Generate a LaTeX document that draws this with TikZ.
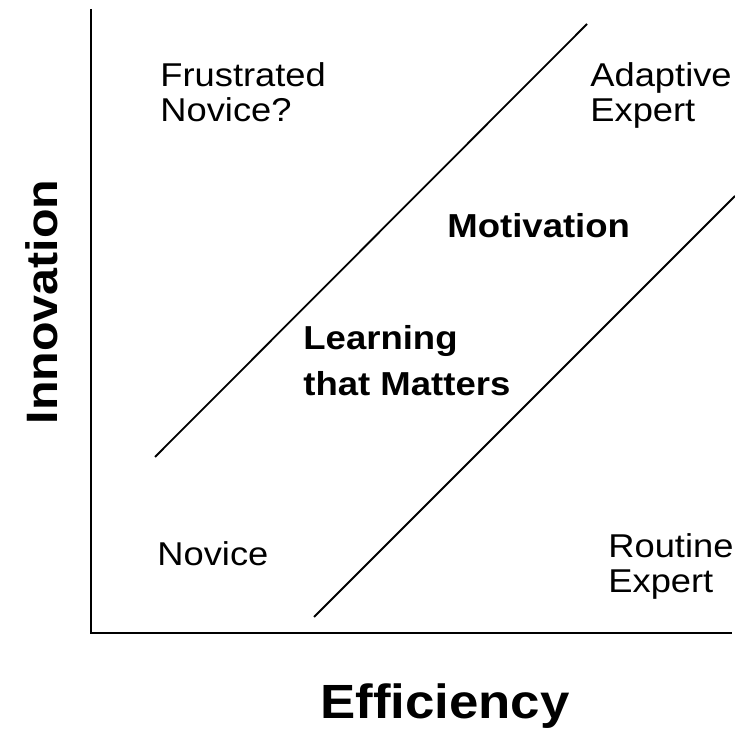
\documentclass[tikz,border=0pt]{standalone}
\usepackage{fontspec}
\setmainfont[FakeStretch=1.1]{Liberation Sans}
\begin{document}
\begin{tikzpicture}[x=.5pt,y=-.5pt,every node/.style={inner sep=0pt,align=left},
	lbl/.style={anchor=north west,font=\fontsize{16.5}{17.5}\selectfont},
	key/.style={anchor=north west,font=\bfseries\fontsize{16.6}{23}\selectfont},
	axlbl/.style={font=\bfseries\fontsize{22}{27}\selectfont}]
		\useasboundingbox(0,0)rectangle(735,732);
		\coordinate(O)at(91,633);
		\coordinate(T)at(91,9);
		\coordinate(R)at(732,633);
		\coordinate(A1)at(155,457);
		\coordinate(A2)at(587,24);
		\coordinate(B1)at(314,617);
		\coordinate(B2)at(735,196);
		\draw[line width=1.3pt](T)--(O)--(R);
		\draw[line width=.9pt](A1)--(A2);
		\draw[line width=.9pt](B1)--(B2);
		\node[lbl](fn)at(160,62){Frustrated\\Novice?};
		\node[lbl](ae)at(590,62){Adaptive\\Expert};
		\node[lbl](nv)at(157,541){Novice};
		\node[lbl](re)at(608,533){Routine\\Expert};
		\node[key](mt)at(447,213){Motivation};
		\node[key](lm)at(303,325){Learning\\that Matters};
		\node[axlbl,rotate=90](iy)at(42,302){Innovation};
		\node[axlbl,font=\bfseries\fontsize{24}{27}\selectfont](ex)at(445,706){Efficiency};
		\end{tikzpicture}
\end{document}
